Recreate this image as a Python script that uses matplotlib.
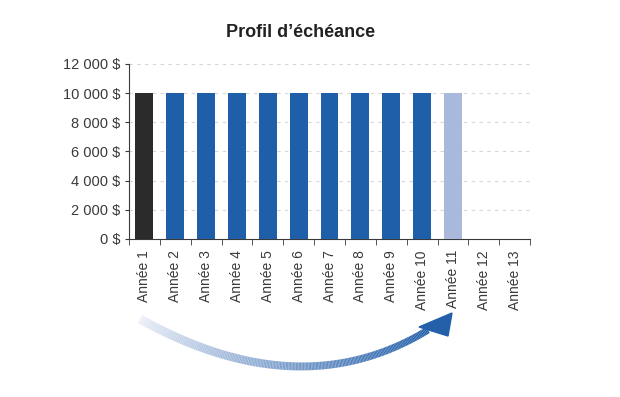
import matplotlib
matplotlib.use("Agg")
import matplotlib.pyplot as plt
import numpy as np
from matplotlib.collections import LineCollection
from matplotlib.colors import to_rgb

# donnees du graphique
annees = ["Année %d" % i for i in range(1, 14)]
montants = [10000, 10000, 10000, 10000, 10000, 10000, 10000, 10000, 10000, 10000, 10000, 0, 0]
couleurs = ["#2b2b2b"] + ["#1f5ea8"] * 9 + ["#a9b9dc", "#1f5ea8", "#1f5ea8"]
yticks = [0, 2000, 4000, 6000, 8000, 10000, 12000]
ytick_labels = ["0 $", "2 000 $", "4 000 $", "6 000 $", "8 000 $", "10 000 $", "12 000 $"]

plt.rcParams['font.family'] = ['Liberation Sans Narrow', 'Liberation Sans', 'DejaVu Sans']
gris = "#3a3a3a"

fig = plt.figure(figsize=(6.2, 3.97), dpi=100)
ax = fig.add_axes([0.208, 0.398, 0.647, 0.441])

x = np.arange(len(annees))
ax.bar(x, montants, width=0.58, color=couleurs, zorder=3)

ax.set_xlim(-0.5, len(annees) - 0.5)
ax.set_ylim(0, 12000)
ax.set_yticks(yticks)
ax.set_yticklabels(ytick_labels, fontsize=10.5, color=gris)
ax.set_xticks(x)
ax.set_xticklabels(annees, rotation=90, fontsize=10, color=gris)
ax.tick_params(axis='x', length=0, pad=8)
ax.set_xticks(np.arange(-0.5, len(annees), 1), minor=True)
ax.tick_params(axis='x', which='minor', length=4, direction='out', color=gris)
ax.tick_params(axis='y', length=3, direction='out', color=gris, pad=3)

for v in yticks[1:]:
    ax.axhline(v, color="#d6d6d6", lw=0.8, ls=(0, (3, 4)), zorder=1)

for s in ["top", "right"]:
    ax.spines[s].set_visible(False)
ax.spines["left"].set_color(gris)
ax.spines["bottom"].set_color(gris)

fig.text(0.485, 0.918, "Profil d\u2019échéance", ha="center", va="center",
         fontsize=13, fontweight="bold", color="#222222")

# fleche en degrade sous l'axe (coordonnees en pixels de la figure)
ov = fig.add_axes([0, 0, 1, 1])
ov.set_xlim(0, 620)
ov.set_ylim(397, 0)
ov.axis("off")

p0 = np.array([140.0, 319.0])
pc = np.array([300.0, 408.0])
p2 = np.array([428.0, 330.0])
t = np.linspace(0, 1, 200)
pts = ((1 - t) ** 2)[:, None] * p0 + (2 * (1 - t) * t)[:, None] * pc + (t ** 2)[:, None] * p2
segs = np.stack([pts[:-1], pts[1:]], axis=1)
c0 = np.array(to_rgb("#eef1f8"))
c1 = np.array(to_rgb("#2460aa"))
tt = np.linspace(0, 1, len(segs)) ** 0.8
cols = c0[None, :] * (1 - tt[:, None]) + c1[None, :] * tt[:, None]
lw = np.linspace(6.5, 5.0, len(segs))
ov.add_collection(LineCollection(segs, colors=cols, linewidths=lw, capstyle="butt"))
tete = plt.Polygon([[452, 313], [419, 327], [448, 336]], closed=True, color="#2460aa")
ov.add_patch(tete)

fig.savefig("out.png", dpi=100)
